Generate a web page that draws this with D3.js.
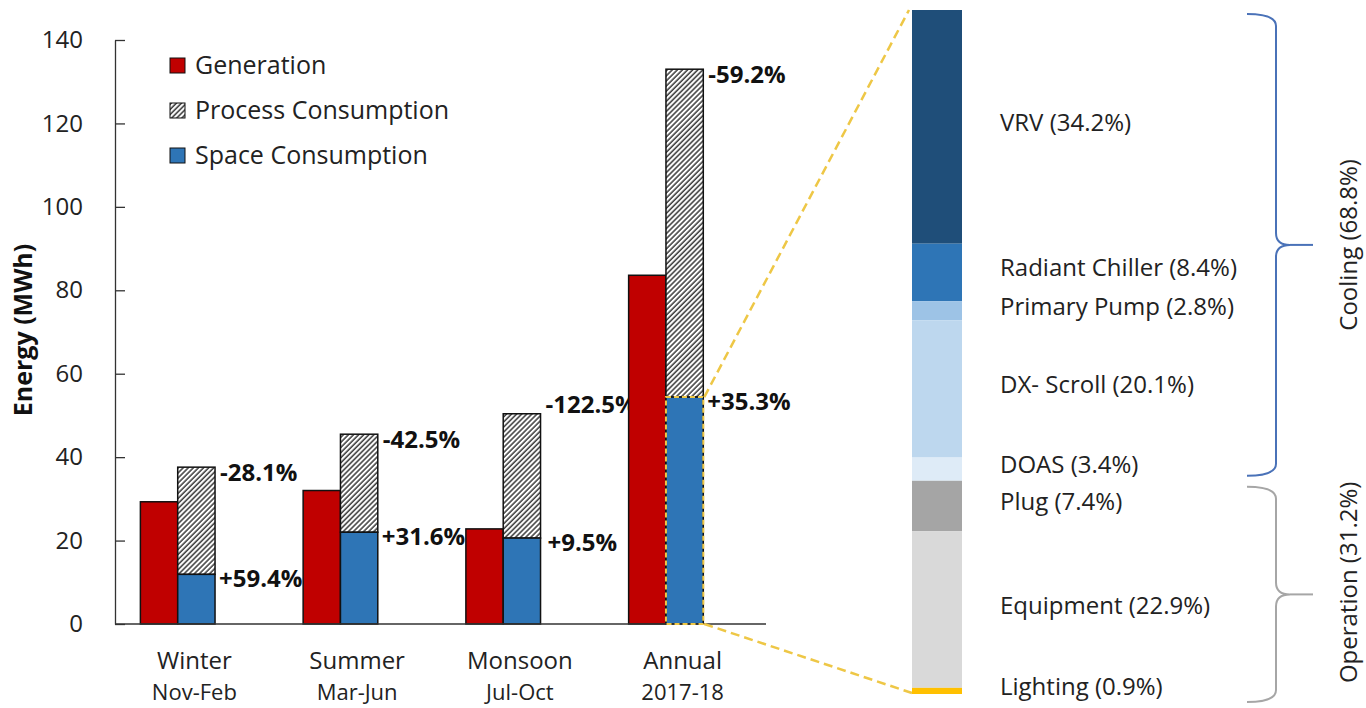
<!DOCTYPE html>
<html>
<head>
<meta charset="utf-8">
<script src="https://cdn.jsdelivr.net/npm/d3@7"></script>
<style>
  body { margin: 0; background: #fff; }
  svg { display: block; font-family: "Open Sans", sans-serif; }
</style>
</head>
<body>
<svg id="chart" width="1366" height="708"></svg>
<script>
// seasonal data (MWh)
const seasons = ["Winter", "Summer", "Monsoon", "Annual"];
const periods = ["Nov-Feb", "Mar-Jun", "Jul-Oct", "2017-18"];
const generation = [29.3, 32.0, 22.8, 83.6];
const spaceUse = [11.9, 22.0, 20.6, 54.4];
const processUse = [25.7, 23.5, 29.8, 78.6];
const processLabels = ["-28.1%", "-42.5%", "-122.5%", "-59.2%"];
const spaceLabels = ["+59.4%", "+31.6%", "+9.5%", "+35.3%"];
const yTicks = [0, 20, 40, 60, 80, 100, 120, 140];
const legendNames = ["Generation", "Process Consumption", "Space Consumption"];

// annual end-use split (%)
const endUses = ["VRV", "Radiant Chiller", "Primary Pump", "DX- Scroll", "DOAS", "Plug", "Equipment", "Lighting"];
const endShares = [34.2, 8.4, 2.8, 20.1, 3.4, 7.4, 22.9, 0.9];
const groupNames = ["Cooling (68.8%)", "Operation (31.2%)"];
const groupMembers = [[0, 4], [5, 7]];

const endColors = ["#1f4e79", "#2e75b6", "#9dc3e6", "#bdd7ee", "#deebf7", "#a5a5a5", "#d9d9d9", "#ffc000"];
const red = "#c00000";
const blue = "#2e75b6";
const gold = "#eec746";

var svg = d3.select("#chart");

// hatch for process consumption
var defs = svg.append("defs");
var pat = defs.append("pattern")
    .attr("id", "hatch")
    .attr("patternUnits", "userSpaceOnUse")
    .attr("width", 3.6)
    .attr("height", 3.6)
    .attr("patternTransform", "rotate(45)");
pat.append("rect").attr("width", 3.6).attr("height", 3.6).attr("fill", "#fff");
pat.append("line").attr("x1", 1).attr("y1", 0).attr("x2", 1).attr("y2", 3.6)
    .attr("stroke", "#1a1a1a").attr("stroke-width", 1.3);

// ---------- left chart ----------
const plotLeft = 115, plotRight = 766, plotTop = 40, plotBottom = 624;

var y = d3.scaleLinear().domain([0, 140]).range([plotBottom, plotTop]);
var x0 = d3.scaleBand().domain(seasons).range([plotLeft, plotRight]).paddingInner(0).paddingOuter(0);
var x1 = d3.scaleBand().domain(["gen", "use", "gap"]).range([0, x0.bandwidth()]).paddingInner(0).paddingOuter(0.68);

var yAxis = d3.axisLeft(y).tickValues(yTicks).tickSizeInner(-10).tickSizeOuter(0).tickPadding(32);
var yg = svg.append("g").attr("transform", `translate(${plotLeft},0)`).call(yAxis);
yg.select(".domain").attr("stroke", "#333").attr("stroke-width", 1.3);
yg.selectAll(".tick line").attr("stroke", "#333").attr("stroke-width", 1.3);
yg.selectAll(".tick text").attr("font-size", 24).attr("fill", "#222").attr("font-family", "Open Sans");

svg.append("text")
    .attr("transform", "translate(32,330) rotate(-90)")
    .attr("text-anchor", "middle")
    .attr("font-size", 25)
    .attr("font-weight", 700)
    .attr("fill", "#111")
    .text("Energy (MWh)");

var groups = svg.selectAll(".season").data(seasons).enter().append("g")
    .attr("class", "season")
    .attr("transform", d => `translate(${x0(d)},0)`);

groups.append("rect")
    .attr("x", x1("gen"))
    .attr("y", (d, i) => y(generation[i]))
    .attr("width", x1.bandwidth())
    .attr("height", (d, i) => y(0) - y(generation[i]))
    .attr("fill", red).attr("stroke", "#111").attr("stroke-width", 1.5);

groups.append("rect")
    .attr("x", x1("use"))
    .attr("y", (d, i) => y(spaceUse[i] + processUse[i]))
    .attr("width", x1.bandwidth())
    .attr("height", (d, i) => y(spaceUse[i]) - y(spaceUse[i] + processUse[i]))
    .attr("fill", "url(#hatch)").attr("stroke", "#111").attr("stroke-width", 1.5);

groups.append("rect")
    .attr("x", x1("use"))
    .attr("y", (d, i) => y(spaceUse[i]))
    .attr("width", x1.bandwidth())
    .attr("height", (d, i) => y(0) - y(spaceUse[i]))
    .attr("fill", blue).attr("stroke", "#111").attr("stroke-width", 1.5);

// percent labels
groups.append("text")
    .attr("x", x1("use") + x1.bandwidth() + 5)
    .attr("y", (d, i) => y(spaceUse[i] + processUse[i]) + (i == 2 ? -1 : 14))
    .attr("font-size", 24).attr("font-weight", 700).attr("fill", "#111")
    .text((d, i) => processLabels[i]);

groups.append("text")
    .attr("x", (d, i) => x1("use") + x1.bandwidth() + (i == 2 ? 7 : 4))
    .attr("y", (d, i) => y(spaceUse[i]) + 13)
    .attr("font-size", 24).attr("font-weight", 700).attr("fill", "#111")
    .text((d, i) => spaceLabels[i]);

// category labels
groups.append("text")
    .attr("x", x0.bandwidth() / 2 - 2)
    .attr("y", 669)
    .attr("text-anchor", "middle")
    .attr("font-size", 24).attr("fill", "#222")
    .text(d => d);
groups.append("text")
    .attr("x", x0.bandwidth() / 2 - 2)
    .attr("y", 700)
    .attr("text-anchor", "middle")
    .attr("font-size", 22).attr("fill", "#222")
    .text((d, i) => periods[i]);

// baseline
svg.append("line")
    .attr("x1", plotLeft).attr("x2", plotRight)
    .attr("y1", y(0)).attr("y2", y(0))
    .attr("stroke", "#333").attr("stroke-width", 1.5);

// legend
var legend = svg.selectAll(".legend").data(legendNames).enter().append("g")
    .attr("class", "legend")
    .attr("transform", (d, i) => `translate(170,${58 + i * 45})`);
legend.append("rect")
    .attr("width", 15).attr("height", 15)
    .attr("fill", (d, i) => i == 0 ? red : (i == 1 ? "url(#hatch)" : blue))
    .attr("stroke", "#111").attr("stroke-width", 1);
legend.append("text")
    .attr("x", 25).attr("y", 16)
    .attr("font-size", 25).attr("fill", "#222")
    .text(d => d);

// ---------- zoom lines ----------
var annualX = x0("Annual") + x1("use");
var annualR = annualX + x1.bandwidth();

const barL = 912, barR = 962, barTop = 10, barBottom = 694;
var yr = d3.scaleLinear().domain([0, d3.sum(endShares)]).range([barTop, barBottom]);

svg.append("rect")
    .attr("x", annualX).attr("y", y(spaceUse[3]))
    .attr("width", x1.bandwidth()).attr("height", y(0) - y(spaceUse[3]))
    .attr("fill", "none").attr("stroke", gold).attr("stroke-width", 2)
    .attr("stroke-dasharray", "5,3");

svg.append("line")
    .attr("x1", annualR + 1).attr("y1", y(spaceUse[3]))
    .attr("x2", barL - 3).attr("y2", barTop)
    .attr("stroke", gold).attr("stroke-width", 2.5).attr("stroke-dasharray", "9,5");
svg.append("line")
    .attr("x1", annualR + 1).attr("y1", y(0))
    .attr("x2", barL).attr("y2", barBottom - 1)
    .attr("stroke", gold).attr("stroke-width", 2.5).attr("stroke-dasharray", "9,5");

// ---------- end-use bar ----------
var cum = [0];
endShares.forEach((v, i) => cum.push(cum[i] + v));

svg.selectAll(".seg").data(endUses).enter().append("rect")
    .attr("class", "seg")
    .attr("x", barL)
    .attr("y", (d, i) => yr(cum[i]))
    .attr("width", barR - barL)
    .attr("height", (d, i) => yr(cum[i + 1]) - yr(cum[i]))
    .attr("fill", (d, i) => endColors[i]);

svg.selectAll(".segLabel").data(endUses).enter().append("text")
    .attr("class", "segLabel")
    .attr("x", 1000)
    .attr("y", (d, i) => (yr(cum[i]) + yr(cum[i + 1])) / 2 + 4)
    .attr("font-size", 24).attr("fill", "#222")
    .text((d, i) => `${d} (${endShares[i]}%)`);

// braces
const braceColors = ["#4a72b8", "#a6a6a6"];
const braceTops = [yr(cum[groupMembers[0][0]]) + 4, yr(cum[groupMembers[1][0]]) + 6];
const braceBottoms = [yr(cum[groupMembers[0][1] + 1]) - 5, barBottom + 8];

groupNames.forEach((name, g) => {
    var t = braceTops[g], b = braceBottoms[g], m = (t + b) / 2;
    var xs = 1247, xv = 1276, xt = 1290, xe = 1313, r = 12;
    var p = `M${xs},${t} Q${xv},${t} ${xv},${t + r} L${xv},${m - r} Q${xv},${m} ${xt},${m} ` +
        `Q${xv},${m} ${xv},${m + r} L${xv},${b - r} Q${xv},${b} ${xs},${b}`;
    svg.append("path").attr("d", p).attr("fill", "none")
        .attr("stroke", braceColors[g]).attr("stroke-width", 2);
    svg.append("line").attr("x1", xt).attr("x2", xe).attr("y1", m).attr("y2", m)
        .attr("stroke", braceColors[g]).attr("stroke-width", 2);
    svg.append("text")
        .attr("transform", `translate(1357,${g == 0 ? m : m - 12}) rotate(-90)`)
        .attr("text-anchor", "middle")
        .attr("font-size", 24).attr("fill", "#222")
        .text(name);
});
</script>
</body>
</html>
